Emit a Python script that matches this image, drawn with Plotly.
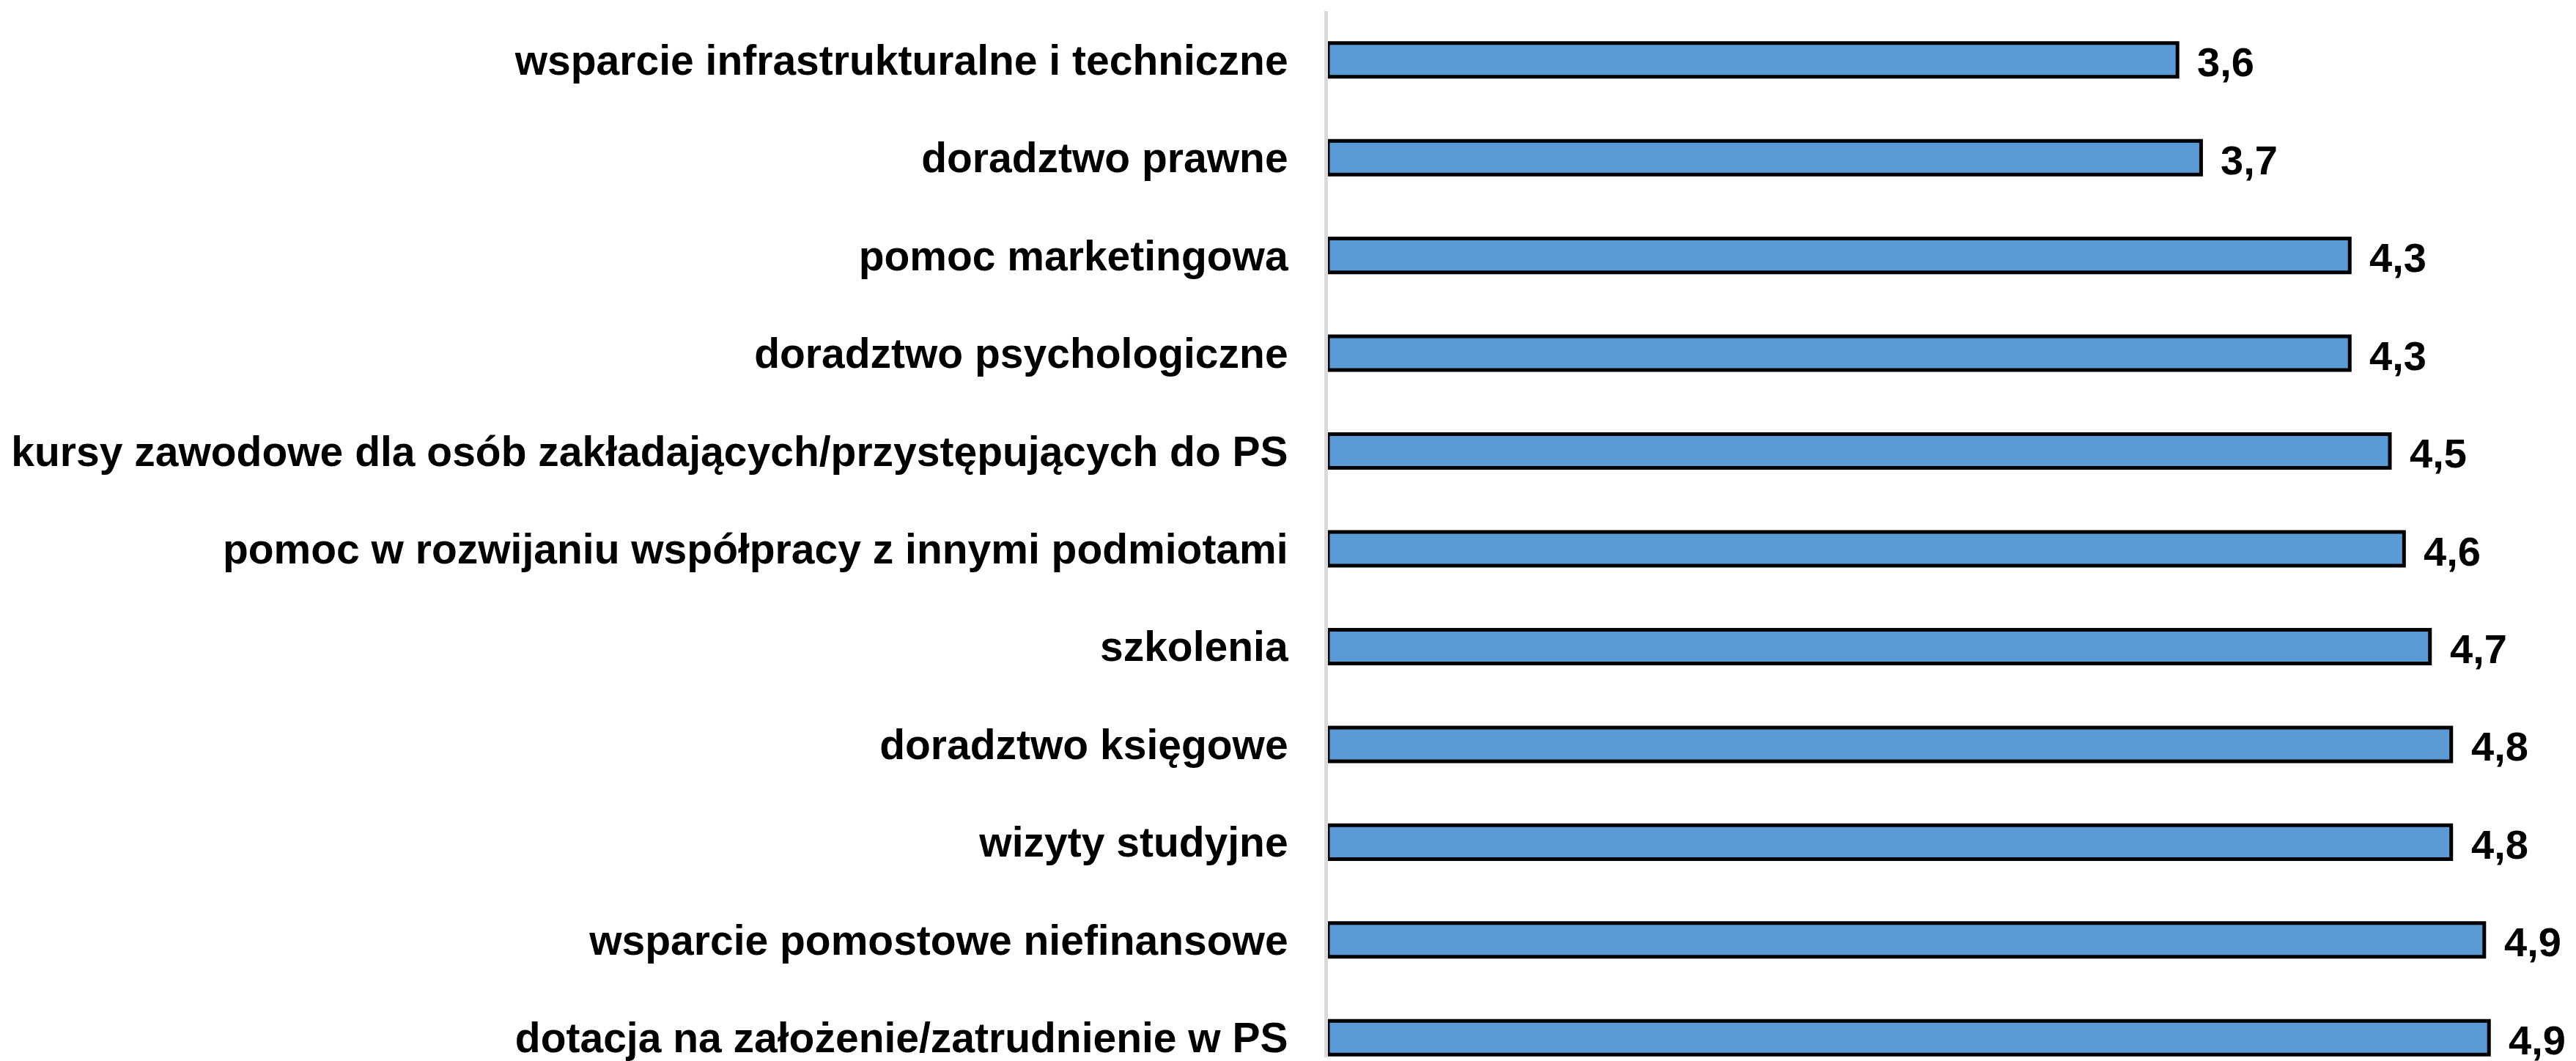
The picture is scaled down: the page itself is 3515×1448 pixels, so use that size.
import plotly.graph_objects as go

# categories listed top to bottom
categories = [
    "wsparcie infrastrukturalne i techniczne",
    "doradztwo prawne",
    "pomoc marketingowa",
    "doradztwo psychologiczne",
    "kursy zawodowe dla osób zakładających/przystępujących do PS",
    "pomoc w rozwijaniu współpracy z innymi podmiotami",
    "szkolenia",
    "doradztwo księgowe",
    "wizyty studyjne",
    "wsparcie pomostowe niefinansowe",
    "dotacja na założenie/zatrudnienie w PS",
]
values = [3.60, 3.70, 4.33, 4.33, 4.50, 4.56, 4.67, 4.76, 4.76, 4.90, 4.92]

n = len(categories)
ypos = [n - 1 - i for i in range(n)]  # top category at highest position
labels = [f"{v:.1f}".replace(".", ",") for v in values]

FONT = "Arial, Liberation Sans, sans-serif"

fig = go.Figure()
fig.add_trace(go.Bar(
    x=values,
    y=ypos,
    orientation="h",
    width=0.345,
    marker=dict(color="#5B9BD5", line=dict(color="#000000", width=5)),
    hoverinfo="skip",
))

for v, y, t in zip(values, ypos, labels):
    fig.add_annotation(
        x=v, y=y, xref="x", yref="y", text=t, showarrow=False,
        xanchor="left", yanchor="middle", xshift=25, yshift=-3,
        font=dict(family=FONT, size=56, color="#000000", weight="bold"),
    )

fig.update_layout(
    width=3515, height=1448,
    margin=dict(l=1812, r=0, t=15, b=0),
    paper_bgcolor="white", plot_bgcolor="white",
    showlegend=False,
    xaxis=dict(range=[0, 1703 / 322], visible=False, fixedrange=True),
    yaxis=dict(
        range=[-0.2, 10.5],
        tickmode="array", tickvals=ypos, ticktext=categories,
        ticks="", showgrid=False, zeroline=False,
        showline=True, linecolor="#D9D9D9", linewidth=5,
        ticklabelstandoff=38,
        ticklabeloverflow="allow",
        tickfont=dict(family=FONT, size=57, color="#000000", weight="bold"),
        fixedrange=True,
    ),
)

fig.write_html(
    "out.html",
    config={"displayModeBar": False},
    post_script="document.body.style.margin='0';document.body.style.overflow='hidden';",
)
